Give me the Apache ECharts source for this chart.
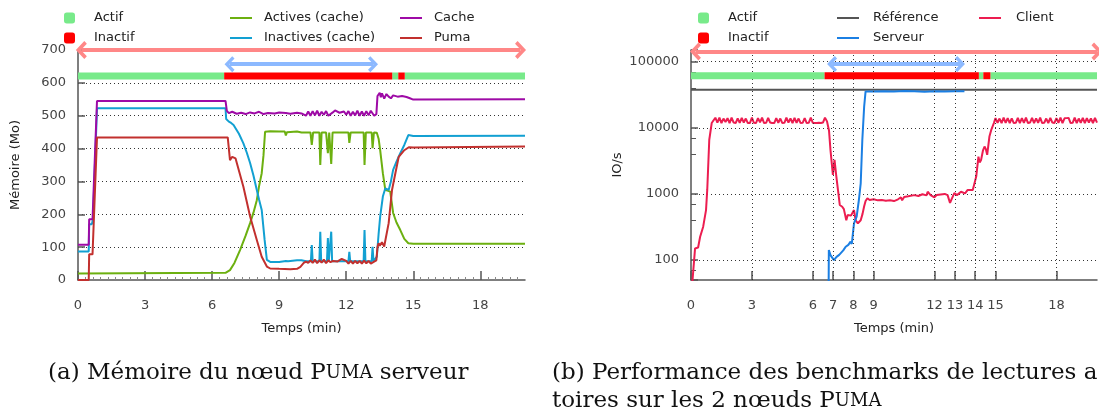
<!DOCTYPE html>
<html><head><meta charset="utf-8">
<script src="https://cdn.jsdelivr.net/npm/echarts@6/dist/echarts.min.js"></script>
<style>html,body{margin:0;padding:0;background:#fff}#c{width:1099px;height:410px}</style>
</head><body><div id="c"></div>
<script>
// ---------- tick labels ----------
const memXTicks = [0,3,6,9,12,15,18];
const ioXTicks = [0,3,6,7,8,9,12,13,14,15,18];
const ioYMajor = [100,1000,10000,100000];

// ---------- (a) memory of server node (minutes, Mo) ----------
const activesCache = [[0,20],[6.6,22],[6.8,30],[7.0,52],[7.25,91],[7.5,135],[7.7,173],[7.85,205],[8.0,243],[8.1,285],[8.22,325],[8.3,380],[8.37,451],[8.6,453],[9.0,452],[9.25,452],[9.3,440],[9.35,450],[9.8,452],[10.0,449],[10.4,449],[10.46,411],[10.52,449],[10.8,449],[10.84,350],[10.9,449],[11.1,449],[11.18,386],[11.24,449],[11.29,449],[11.33,353],[11.39,449],[12.1,449],[12.14,417],[12.2,449],[12.78,449],[12.82,350],[12.88,449],[13.14,449],[13.18,401],[13.24,449],[13.37,448],[13.45,430],[13.52,395],[13.64,325],[13.75,274],[13.85,272],[13.97,269],[14.1,204],[14.25,175],[14.42,152],[14.6,125],[14.78,112],[15,110],[20,110]];
const inactivesCache = [[0,87],[0.48,87],[0.5,170],[0.62,170],[0.67,185],[0.85,523],[6.6,523],[6.63,490],[6.75,482],[6.85,478],[6.96,472],[7.2,445],[7.4,416],[7.55,388],[7.7,356],[7.85,318],[8.0,274],[8.1,245],[8.22,213],[8.35,122],[8.45,61],[8.6,55],[9.0,55],[9.3,58],[9.35,62],[9.4,57],[9.8,60],[10.0,60],[10.2,57],[10.42,57],[10.46,106],[10.5,57],[10.8,57],[10.84,147],[10.88,57],[11.14,57],[11.18,128],[11.22,57],[11.29,57],[11.33,147],[11.37,57],[12.1,57],[12.14,86],[12.18,57],[12.78,57],[12.82,152],[12.86,57],[13.14,57],[13.18,101],[13.22,57],[13.3,60],[13.37,71],[13.45,140],[13.52,193],[13.64,254],[13.75,279],[13.9,274],[14.0,300],[14.1,335],[14.25,360],[14.42,386],[14.6,411],[14.78,441],[15,438],[20,439]];
const cacheTotal = [[0,107],[0.48,107],[0.5,185],[0.65,185],[0.85,545],[6.6,545],[6.66,515],[6.75,508],[6.9,512],[7.1,506],[7.3,509],[7.5,505],[7.7,510],[7.9,507],[8.1,512],[8.3,505],[8.5,508],[8.8,507],[9.0,510],[9.3,508],[9.5,506],[9.8,509],[10.0,507],[10.2,500],[10.3,513],[10.4,500],[10.5,514],[10.6,501],[10.7,515],[10.8,500],[10.9,512],[11.0,503],[11.1,514],[11.2,500],[11.4,510],[11.5,516],[11.7,509],[11.9,513],[12.0,503],[12.1,514],[12.2,500],[12.3,512],[12.4,501],[12.5,515],[12.6,500],[12.7,513],[12.8,500],[12.9,514],[13.0,501],[13.1,515],[13.25,500],[13.35,505],[13.4,560],[13.5,570],[13.55,556],[13.6,568],[13.7,552],[13.8,566],[13.9,558],[14.0,553],[14.1,562],[14.3,558],[14.5,560],[14.7,557],[14.85,553],[15,549],[20,550]];
const pumaMem = [[0,0],[0.48,0],[0.5,78],[0.65,78],[0.85,434],[6.7,434],[6.8,365],[6.9,375],[6.96,380],[7.05,370],[7.1,368],[7.4,284],[7.7,193],[8.0,122],[8.22,71],[8.45,41],[8.6,35],[9.0,34],[9.5,33],[9.8,34],[9.95,40],[10.1,52],[10.2,56],[10.3,52],[10.4,60],[10.5,52],[10.6,62],[10.7,51],[10.8,60],[10.9,53],[11.0,62],[11.1,51],[11.2,60],[11.3,54],[11.4,58],[11.6,56],[11.8,64],[12.0,58],[12.1,50],[12.2,58],[12.3,50],[12.4,58],[12.5,51],[12.6,58],[12.7,50],[12.8,59],[12.9,51],[13.0,58],[13.1,50],[13.25,56],[13.35,60],[13.4,100],[13.45,112],[13.5,104],[13.6,115],[13.7,102],[13.75,108],[13.9,173],[14.05,274],[14.2,325],[14.35,375],[14.6,395],[14.8,404],[15,403],[20,406]];

// ---------- (b) IO/s ----------
const referenceIO = [[0,37700],[20,37700]];
const clientIO = [[0.05,40],[0.2,150],[0.35,155],[0.45,225],[0.6,320],[0.74,570],[0.8,1150],[0.9,6600],[1.02,11800],[1.1,12500],[1.2,14200],[1.3,12000],[1.4,14200],[1.5,11800],[1.6,13800],[1.7,12200],[1.8,14000],[1.9,11800],[2.0,14200],[2.1,12000],[2.2,11800],[2.3,13900],[2.4,11900],[2.5,14100],[2.6,12000],[2.7,13800],[2.8,11800],[2.9,11800],[3.0,14200],[3.1,11900],[3.2,11800],[3.3,14000],[3.4,12100],[3.5,14200],[3.6,11800],[3.7,11900],[3.8,14100],[3.9,12000],[4.0,11800],[4.1,11800],[4.2,14000],[4.3,11900],[4.4,13800],[4.5,11800],[4.6,11900],[4.7,14200],[4.8,12000],[4.9,13900],[5.0,11800],[5.1,14100],[5.2,11900],[5.3,13800],[5.4,11800],[5.5,11900],[5.6,14000],[5.7,11800],[5.8,11900],[5.9,14200],[6.0,11900],[6.1,11800],[6.2,11800],[6.3,11900],[6.4,11800],[6.5,12000],[6.6,14200],[6.7,12500],[6.8,9000],[6.87,4640],[6.99,1940],[7.07,3270],[7.15,1940],[7.24,1150],[7.33,680],[7.45,640],[7.53,590],[7.65,400],[7.72,480],[7.78,510],[7.88,470],[7.95,480],[8.03,570],[8.11,400],[8.22,360],[8.3,380],[8.36,400],[8.45,500],[8.53,650],[8.6,780],[8.69,860],[8.8,810],[9.0,830],[9.2,800],[9.4,810],[9.6,790],[9.8,800],[10.0,780],[10.2,830],[10.34,890],[10.4,800],[10.5,900],[10.7,920],[11.0,960],[11.2,930],[11.4,990],[11.6,950],[11.66,1080],[11.8,960],[11.99,890],[12.1,960],[12.3,980],[12.5,1000],[12.64,960],[12.76,730],[12.85,850],[12.97,1030],[13.1,960],[13.3,1080],[13.5,1020],[13.63,1150],[13.88,1150],[14.05,1830],[14.16,3670],[14.22,3000],[14.29,3270],[14.38,4500],[14.46,5210],[14.52,4800],[14.59,3900],[14.7,7380],[14.8,9500],[14.92,11800],[15.0,14000],[15.1,11900],[15.2,13800],[15.3,11800],[15.4,14200],[15.5,11900],[15.6,14000],[15.7,11800],[15.8,13900],[15.9,11800],[16.0,11900],[16.1,14100],[16.2,11800],[16.3,14000],[16.4,11900],[16.5,14200],[16.6,11800],[16.7,12000],[16.8,14100],[16.9,11800],[17.0,13900],[17.1,11900],[17.2,14200],[17.3,11800],[17.4,11900],[17.5,13800],[17.6,11800],[17.7,14100],[17.8,12000],[17.9,11800],[18.0,14000],[18.1,11900],[18.2,14200],[18.3,11800],[18.4,13900],[18.5,14000],[18.6,14100],[18.7,11800],[18.8,11900],[18.9,14200],[19.0,11800],[19.1,13800],[19.2,11900],[19.3,14100],[19.4,11800],[19.5,14000],[19.6,12000],[19.7,13900],[19.8,11800],[19.9,14100],[20.0,12000]];
const serveurIO = [[6.78,40],[6.79,142],[6.87,119],[6.96,126],[7.04,100],[7.17,112],[7.3,120],[7.37,126],[7.5,140],[7.62,159],[7.75,170],[7.86,190],[7.92,175],[7.95,213],[8.03,360],[8.16,455],[8.27,810],[8.36,1450],[8.44,6600],[8.53,21000],[8.6,35500],[9.0,35300],[9.5,35800],[10.0,35500],[10.5,35900],[11.0,35600],[11.5,35200],[12.0,35700],[12.5,35400],[13.0,35600],[13.47,35800]];

// ---------- node state bars and phase arrows ----------
const memActif = [[0,6.54],[14.06,14.33],[14.62,20]];
const memInactif = [[6.54,14.06],[14.33,14.62]];
const ioActif = [[0,6.58],[14.18,14.4],[14.75,20]];
const ioInactif = [[6.58,14.18],[14.4,14.75]];
const memStateLevel = 621, ioStateLevel = 61000;
const memWholeArrow = [[0.15,700],[19.8,700]];
const memPhaseArrow = [[6.78,657],[13.2,657]];
const ioWholeArrow = [[0.22,142000],[20.0,142000]];
const ioPhaseArrow = [[6.95,92000],[13.25,92000]];

const FONT = 'DejaVu Sans';
const C = {
  actif:'#78ea8a', inactif:'#ff0000', pink:'#ff8787', lblue:'#8cb9ff',
  act:'#6cb010', inact:'#12a0d2', cache:'#9e0aa6', puma:'#c2302e',
  ref:'#555555', serv:'#1b7fe3', client:'#ec1d50'
};
const chevron = 'path://M0,9 L9,0 L18,9 L15.3,11.7 L9,5.4 L2.7,11.7 Z';

function stateSeries(name, segs, level, color, gi) {
  return segs.map(s => ({
    name, type:'line', xAxisIndex:gi, yAxisIndex:gi, symbol:'none', silent:true, z:5,
    color, lineStyle:{width:7, color, cap:'butt'},
    data:[[s[0],level],[s[1],level]]
  }));
}
function arrowSeries(pts, color, gi, size) {
  return {
    type:'line', xAxisIndex:gi, yAxisIndex:gi, data:[], clip:false, silent:true, z:6,
    markLine:{
      silent:true, animation:false, clip:false,
      symbol:[chevron, chevron], symbolSize:size,
      lineStyle:{color, width:4, type:'solid'},
      label:{show:false}, emphasis:{disabled:true},
      data:[[{coord:pts[0]},{coord:pts[1]}]]
    }
  };
}
function lineSeries(name, data, color, gi, z) {
  return {name, type:'line', xAxisIndex:gi, yAxisIndex:gi, symbol:'none', showSymbol:false, data, color,
    lineStyle:{width:2, color}, z: z||3, silent:true};
}

const axisLabelStyle = {color:'#444', fontFamily:FONT, fontSize:13};
const axisLineStyle = {lineStyle:{color:'#555', width:1.5}};
const dotted = {show:true, lineStyle:{color:'#333', type:[1,3], width:1}};

const legendText = {color:'#222', fontFamily:FONT, fontSize:13};
function legend(left, data, isBox, pad) {
  return {orient:'vertical', left, top:11.5, padding:0, itemGap:7, selectedMode:false,
    itemWidth: isBox ? 11 : 22, itemHeight: isBox ? 11 : 2,
    textStyle:Object.assign({padding:[0,0,0,pad]}, legendText),
    data: data.map(n => ({name:n, icon: isBox ? 'roundRect' : 'rect'}))};
}

const capN = {fontFamily:'DejaVu Serif', fontSize:23, fill:'#111'};
const capS = {fontFamily:'DejaVu Serif', fontSize:18, fill:'#111'};

const option = {
  animation:false,
  backgroundColor:'#fff',
  grid:[
    {left:78, top:50, width:447, height:230},
    {left:691, top:50, width:406, height:230}
  ],
  legend:[
    legend(64, ['Actif','Inactif'], true, 14),
    legend(230, ['Actives (cache)','Inactives (cache)'], false, 7),
    legend(400, ['Cache','Puma'], false, 7),
    legend(698, ['Actif','Inactif'], true, 14),
    legend(837, ['Référence','Serveur'], false, 9),
    legend(979, ['Client'], false, 10)
  ],
  xAxis:[
    {gridIndex:0, type:'value', min:0, max:20, interval:3,
     name:'Temps (min)', nameLocation:'middle', nameGap:42,
     nameTextStyle:{color:'#222', fontFamily:FONT, fontSize:13},
     axisLine:axisLineStyle,
     axisTick:{inside:true, length:9, customValues:memXTicks, lineStyle:{color:'#555', width:1.5}},
     minorTick:{show:true, splitNumber:9, length:3, lineStyle:{color:'#888'}},
     axisLabel:Object.assign({margin:19, customValues:memXTicks}, axisLabelStyle),
     splitLine:{show:false}},
    {gridIndex:1, type:'value', min:0, max:20, interval:1,
     name:'Temps (min)', nameLocation:'middle', nameGap:42,
     nameTextStyle:{color:'#222', fontFamily:FONT, fontSize:13},
     axisLine:axisLineStyle,
     axisTick:{inside:true, length:9, customValues:ioXTicks, lineStyle:{color:'#555', width:1.5}},
     axisLabel:Object.assign({margin:19, customValues:ioXTicks}, axisLabelStyle),
     splitLine:{show:false}}
  ],
  yAxis:[
    {gridIndex:0, type:'value', min:0, max:700, interval:100,
     name:'Mémoire (Mo)', nameLocation:'middle', nameGap:56, nameRotate:90,
     nameTextStyle:{color:'#222', fontFamily:FONT, fontSize:13},
     axisLine:Object.assign({show:true}, axisLineStyle),
     axisTick:{show:true, inside:true, length:7, lineStyle:{color:'#555', width:1.5}},
     axisLabel:Object.assign({margin:12}, axisLabelStyle),
     splitLine:Object.assign({showMinLine:false}, dotted)},
    {gridIndex:1, type:'log', logBase:10, min:50, max:150000,
     name:'IO/s', nameLocation:'middle', nameGap:67, nameRotate:90,
     nameTextStyle:{color:'#222', fontFamily:FONT, fontSize:13},
     axisLine:Object.assign({show:true}, axisLineStyle),
     axisTick:{show:true, inside:true, length:7, lineStyle:{color:'#555', width:1.5}},
     minorTick:{show:true, splitNumber:3, length:5, lineStyle:{color:'#555'}},
     axisLabel:Object.assign({margin:12, showMinLabel:false, showMaxLabel:false,
       formatter:v => ioYMajor.indexOf(Math.round(v)) >= 0 ? String(Math.round(v)) : ''}, axisLabelStyle),
     splitLine:Object.assign({showMinLine:false, showMaxLine:false}, dotted)}
  ],
  graphic:[
    {type:'text', left:48, top:362, style:{
      text:'{n|(a) Mémoire du nœud P}{s|UMA}{n| serveur}', rich:{n:capN, s:capS}}},
    {type:'text', left:552, top:362, style:{
      text:'{n|(b) Performance des benchmarks de lectures a}', rich:{n:capN}}},
    {type:'text', left:552, top:390, style:{
      text:'{n|toires sur les 2 nœuds P}{s|UMA}', rich:{n:capN, s:capS}}}
  ],
  series:[].concat(
    [lineSeries('Actives (cache)', activesCache, C.act, 0),
     lineSeries('Inactives (cache)', inactivesCache, C.inact, 0),
     lineSeries('Cache', cacheTotal, C.cache, 0),
     lineSeries('Puma', pumaMem, C.puma, 0)],
    stateSeries('Actif', memActif, memStateLevel, C.actif, 0),
    stateSeries('Inactif', memInactif, memStateLevel, C.inactif, 0),
    [arrowSeries(memWholeArrow, C.pink, 0, [18,11]),
     arrowSeries(memPhaseArrow, C.lblue, 0, [16,10])],
    [{type:'line', xAxisIndex:1, yAxisIndex:1, data:[], silent:true, z:1,
      markLine:{silent:true, symbol:'none', label:{show:false}, emphasis:{disabled:true},
        lineStyle:{color:'#333', type:[1,3], width:1},
        data: ioXTicks.filter(v => v > 0).map(v => ({xAxis:v}))}}],
    [lineSeries('Référence', referenceIO, C.ref, 1, 2),
     lineSeries('Client', clientIO, C.client, 1),
     lineSeries('Serveur', serveurIO, C.serv, 1, 4)],
    stateSeries('Actif', ioActif, ioStateLevel, C.actif, 1),
    stateSeries('Inactif', ioInactif, ioStateLevel, C.inactif, 1),
    [arrowSeries(ioWholeArrow, C.pink, 1, [18,11]),
     arrowSeries(ioPhaseArrow, C.lblue, 1, [16,10])]
  )
};
const chart = echarts.init(document.getElementById('c'), null, {renderer:'canvas'});
chart.setOption(option);
</script></body></html>
